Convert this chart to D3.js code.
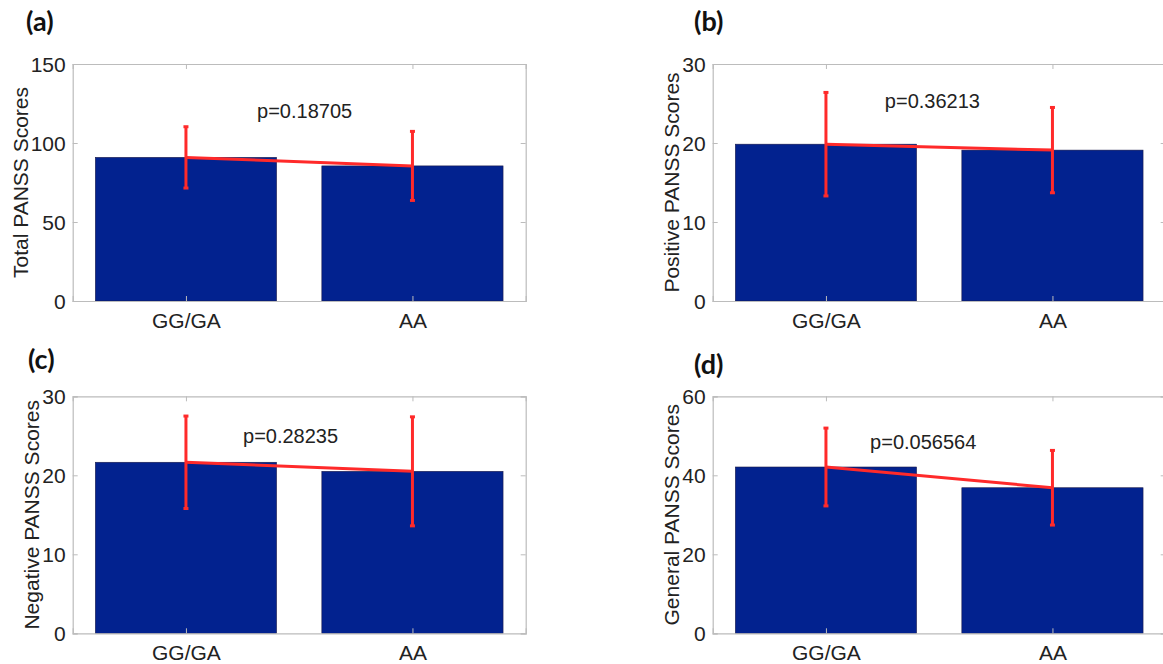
<!DOCTYPE html>
<html>
<head>
<meta charset="utf-8">
<script src="https://cdn.jsdelivr.net/npm/d3@7"></script>
<style>
  html, body { margin: 0; padding: 0; background: #fff; }
  svg { display: block; }
  text { font-family: "Liberation Sans", Arial, Helvetica, sans-serif; fill: #222; }
  .ptitle { font-family: Lato, "Open Sans", sans-serif; font-weight: 700; fill: #111; }
</style>
</head>
<body>
<script>
// ---------- data ----------
const categories = ["GG/GA", "AA"];
const panelLabels = ["(a)", "(b)", "(c)", "(d)"];
const yTitles = ["Total PANSS Scores", "Positive PANSS Scores", "Negative PANSS Scores", "General PANSS Scores"];
const yMax = [150, 30, 30, 60];
const yTicks = [[0, 50, 100, 150], [0, 10, 20, 30], [0, 10, 20, 30], [0, 20, 40, 60]];
const means = [[90.9, 85.5], [19.85, 19.1], [21.65, 20.5], [42.1, 36.85]];
const sds = [[19.4, 21.85], [6.55, 5.4], [5.85, 6.9], [9.85, 9.45]];
const pTexts = ["p=0.18705", "p=0.36213", "p=0.28235", "p=0.056564"];
const pX = [1.314, 1.26, 1.252, 1.195];
const pY = [115.6, 24.4, 24.1, 46.6];

// ---------- layout ----------
const W = 1163, H = 664;
const layout = [
  { left: 72.7, top: 64, w: 453, h: 237, tx: 26, ty: 31 },
  { left: 712.7, top: 64, w: 453, h: 237, tx: 694, ty: 31 },
  { left: 72.7, top: 396.3, w: 453, h: 237, tx: 28, ty: 369 },
  { left: 712.7, top: 396.3, w: 453, h: 237, tx: 694, ty: 374 }
];
const barColor = "#02228f";
const red = "#ff2a2a";
const axisColor = "#bcbcbc";

const svg = d3.select("body").append("svg").attr("width", W).attr("height", H);

layout.forEach((L, i) => {
  const g = svg.append("g").attr("transform", `translate(${L.left},${L.top})`);
  const x = d3.scaleLinear().domain([0.5, categories.length + 0.5]).range([0, L.w]);
  const y = d3.scaleLinear().domain([0, yMax[i]]).range([L.h, 0]);
  const bw = x(1.4) - x(0.6);

  // bars
  g.selectAll("rect.bar").data(means[i]).enter().append("rect")
    .attr("class", "bar")
    .attr("x", (d, j) => x(j + 1) - bw / 2)
    .attr("width", bw)
    .attr("y", d => y(d))
    .attr("height", d => L.h - y(d))
    .attr("fill", barColor)
    .attr("stroke", "#1a1a4a").attr("stroke-width", 0.6);

  // axes box (left/bottom via d3 axes, top/right mirrored ticks)
  const yAxL = d3.axisLeft(y).tickValues(yTicks[i]).tickSize(-5).tickPadding(7).tickFormat(d3.format("d"));
  const yAxR = d3.axisRight(y).tickValues(yTicks[i]).tickSize(-5).tickFormat("");
  const xAxB = d3.axisBottom(x).tickValues(categories.map((c, j) => j + 1)).tickSize(-5).tickPadding(12).tickFormat((d) => categories[d - 1]);
  const xAxT = d3.axisTop(x).tickValues(categories.map((c, j) => j + 1)).tickSize(-5).tickFormat("");

  const gl = g.append("g").call(yAxL);
  const gr = g.append("g").attr("transform", `translate(${L.w},0)`).call(yAxR);
  const gb = g.append("g").attr("transform", `translate(0,${L.h})`).call(xAxB);
  const gt = g.append("g").call(xAxT);
  [gl, gr, gb, gt].forEach(a => {
    a.selectAll("path.domain").attr("stroke", axisColor).attr("stroke-width", 1.2);
    a.selectAll(".tick line").attr("stroke", axisColor).attr("stroke-width", 1);
    a.selectAll(".tick text").style("font-size", "21px").style("font-family", "'Liberation Sans', Arial, sans-serif").attr("fill", "#222");
  });
  gl.selectAll(".tick text").attr("dy", "0.36em");

  // y label
  let maxW = 0;
  gl.selectAll(".tick text").each(function () { maxW = Math.max(maxW, this.getComputedTextLength()); });
  g.append("text")
    .attr("transform", `translate(${-7 - maxW - 3},${L.h / 2}) rotate(-90)`)
    .attr("text-anchor", "middle")
    .style("font-size", "21px")
    .text(yTitles[i]);

  // red line connecting means
  const line = d3.line().x((d, j) => x(j + 1)).y(d => y(d));
  g.append("path").datum(means[i]).attr("d", line)
    .attr("fill", "none").attr("stroke", red).attr("stroke-width", 3);

  // error bars
  const eb = g.selectAll("g.eb").data(means[i]).enter().append("g").attr("class", "eb");
  eb.append("line")
    .attr("x1", (d, j) => x(j + 1)).attr("x2", (d, j) => x(j + 1))
    .attr("y1", (d, j) => y(d - sds[i][j])).attr("y2", (d, j) => y(d + sds[i][j]))
    .attr("stroke", red).attr("stroke-width", 3);
  [-1, 1].forEach(s => {
    eb.append("line")
      .attr("x1", (d, j) => x(j + 1) - 2.5).attr("x2", (d, j) => x(j + 1) + 2.5)
      .attr("y1", (d, j) => y(d + s * sds[i][j])).attr("y2", (d, j) => y(d + s * sds[i][j]))
      .attr("stroke", red).attr("stroke-width", 3);
  });

  // p-value text
  g.append("text")
    .attr("x", x(pX[i])).attr("y", y(pY[i]))
    .style("font-size", "20px")
    .text(pTexts[i]);

  // panel title
  svg.append("text").attr("class", "ptitle")
    .attr("x", L.tx).attr("y", L.ty)
    .style("font-size", "27px")
    .text(panelLabels[i]);
});
</script>
</body>
</html>
